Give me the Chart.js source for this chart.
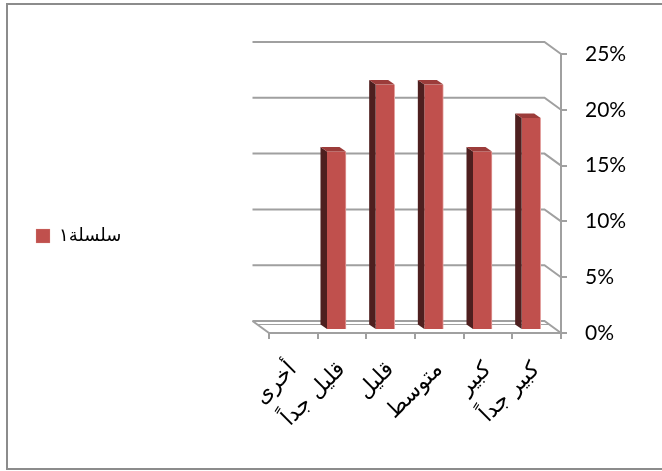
<!DOCTYPE html>
<html>
<head>
<meta charset="utf-8">
<script src="https://cdn.jsdelivr.net/npm/chart.js@4.4.0/dist/chart.umd.min.js"></script>
<style>
  html, body { margin: 0; padding: 0; background: #fff; overflow: hidden; }
  #wrap { position: relative; width: 662px; height: 471px; overflow: hidden; }
  #frame { position: absolute; left: 6px; top: 3px; width: 700px; height: 467px;
           border: 2px solid #8c8c8c; box-sizing: border-box; pointer-events: none; }
  canvas { display: block; }
</style>
</head>
<body>
<div id="wrap">
  <canvas id="chart" width="662" height="471"></canvas>
  <div id="frame"></div>
</div>
<script>
// Categories (left to right) and the single series, as fractions
const categories = ['أخرى', 'قليل جداً', 'قليل', 'متوسط', 'كبير', 'كبير جداً'];
const seriesName = 'سلسلة١';
const seriesValues = [0, 0.16, 0.22, 0.22, 0.16, 0.19];
// Value axis: 0% .. 25% every 5%
const axisMin = 0;
const axisMax = 0.25;
const axisStep = 0.05;

// 3D look: back wall offset from the front plane, bar offset, bar depth
const WALL = { dx: 16.5, dy: 12 };
const BAR_SHIFT = { dx: -5.5, dy: -3 };
const BAR_DEPTH = { dx: 6.5, dy: 4.5 };
const GRID = '#a0a0a0';

// front plane of the plot (pixels) and outer margins
const plot = { left: 269, right: 561, top: 54, bottom: 333 };
const margin = { top: 21, bottom: 20 };

const chart3d = {
  id: 'chart3d',
  beforeDatasetsDraw(chart) {
    const { ctx, chartArea: a, scales: { y } } = chart;
    ctx.save();
    ctx.strokeStyle = GRID;
    ctx.lineWidth = 2;
    // back wall grid lines with the side diagonal to the front axis
    y.ticks.forEach(t => {
      const py = y.getPixelForValue(t.value);
      ctx.beginPath();
      ctx.moveTo(a.left - WALL.dx, py - WALL.dy);
      ctx.lineTo(a.right - WALL.dx, py - WALL.dy);
      ctx.lineTo(a.right, py);
      ctx.stroke();
    });
    // floor: left edge and plate thickness
    const p0 = y.getPixelForValue(0);
    ctx.beginPath();
    ctx.moveTo(a.left - WALL.dx, p0 - WALL.dy);
    ctx.lineTo(a.left, p0);
    ctx.stroke();
    ctx.lineWidth = 1;
    ctx.beginPath();
    ctx.moveTo(a.left - WALL.dx + 4, p0 - WALL.dy + 3.5);
    ctx.lineTo(a.right - WALL.dx + 4, p0 - WALL.dy + 3.5);
    ctx.stroke();
    ctx.restore();
    // bars sit a little behind the front plane
    ctx.save();
    ctx.translate(BAR_SHIFT.dx, BAR_SHIFT.dy);
  },
  afterDatasetsDraw(chart) {
    const { ctx } = chart;
    ctx.restore();
    const meta = chart.getDatasetMeta(0);
    ctx.save();
    meta.data.forEach((bar, i) => {
      if (!seriesValues[i]) return;
      const p = bar.getProps(['x', 'y', 'base', 'width'], true);
      const L = p.x - p.width / 2 + BAR_SHIFT.dx;
      const R = p.x + p.width / 2 + BAR_SHIFT.dx;
      const T = p.y + BAR_SHIFT.dy;
      const B = p.base + BAR_SHIFT.dy;
      // left side face
      ctx.fillStyle = '#4e1f1f';
      ctx.beginPath();
      ctx.moveTo(L, T);
      ctx.lineTo(L - BAR_DEPTH.dx, T - BAR_DEPTH.dy);
      ctx.lineTo(L - BAR_DEPTH.dx, B - BAR_DEPTH.dy);
      ctx.lineTo(L, B);
      ctx.closePath();
      ctx.fill();
      // top face
      ctx.fillStyle = '#9c3c3a';
      ctx.beginPath();
      ctx.moveTo(L, T);
      ctx.lineTo(R, T);
      ctx.lineTo(R - BAR_DEPTH.dx, T - BAR_DEPTH.dy);
      ctx.lineTo(L - BAR_DEPTH.dx, T - BAR_DEPTH.dy);
      ctx.closePath();
      ctx.fill();
    });
    ctx.restore();
  }
};

new Chart(document.getElementById('chart'), {
  type: 'bar',
  data: {
    labels: categories,
    datasets: [{
      label: seriesName,
      data: seriesValues,
      backgroundColor: '#c0504d',
      borderColor: '#e3a09e',
      borderWidth: { left: 0, right: 1, top: 0, bottom: 0 },
      borderSkipped: false,
      barThickness: 19,
      yAxisID: 'y'
    }]
  },
  options: {
    responsive: false,
    devicePixelRatio: 1,
    animation: false,
    events: [],
    layout: { padding: { left: 0, right: 662 - plot.right - 70, top: margin.top, bottom: margin.bottom } },
    plugins: {
      tooltip: { enabled: false },
      legend: {
        position: 'left',
        maxWidth: 300,
        labels: {
          boxWidth: 14,
          boxHeight: 14,
          padding: 36,
          color: '#000',
          font: { family: 'DejaVu Sans', size: 18 }
        }
      }
    },
    scales: {
      x: {
        type: 'category',
        position: 'bottom',
        grid: { offset: true, drawOnChartArea: false, drawTicks: true, tickLength: 6, color: GRID, lineWidth: 2 },
        border: { display: true, color: GRID, width: 2 },
        ticks: {
          autoSkip: false, minRotation: 45, maxRotation: 45,
          color: '#000', padding: 18,
          font: { family: 'DejaVu Sans', size: 22 }
        },
        afterFit(s) { s.height = 471 - margin.bottom - plot.bottom; }
      },
      y: {
        type: 'linear',
        position: 'right',
        min: axisMin,
        max: axisMax,
        grid: { drawOnChartArea: false, drawTicks: true, tickLength: 6, color: GRID, lineWidth: 2 },
        border: { display: true, color: GRID, width: 2 },
        ticks: {
          stepSize: axisStep,
          padding: 18,
          color: '#000',
          font: { family: 'Lato', size: 21 },
          callback: v => Math.round(v * 100) + '%'
        },
        afterFit(s) { s.width = 70; }
      },
      spacerLeft: {
        type: 'linear',
        position: 'left',
        display: true,
        grid: { display: false },
        border: { display: false },
        ticks: { display: false },
        afterFit(s) { s.width = plot.left - (s.chart.legend ? s.chart.legend.width : 0); }
      },
      spacerTop: {
        type: 'linear',
        position: 'top',
        display: true,
        grid: { display: false },
        border: { display: false },
        ticks: { display: false },
        afterFit(s) { s.height = plot.top - margin.top; }
      }
    }
  },
  plugins: [chart3d]
});
</script>
</body>
</html>
